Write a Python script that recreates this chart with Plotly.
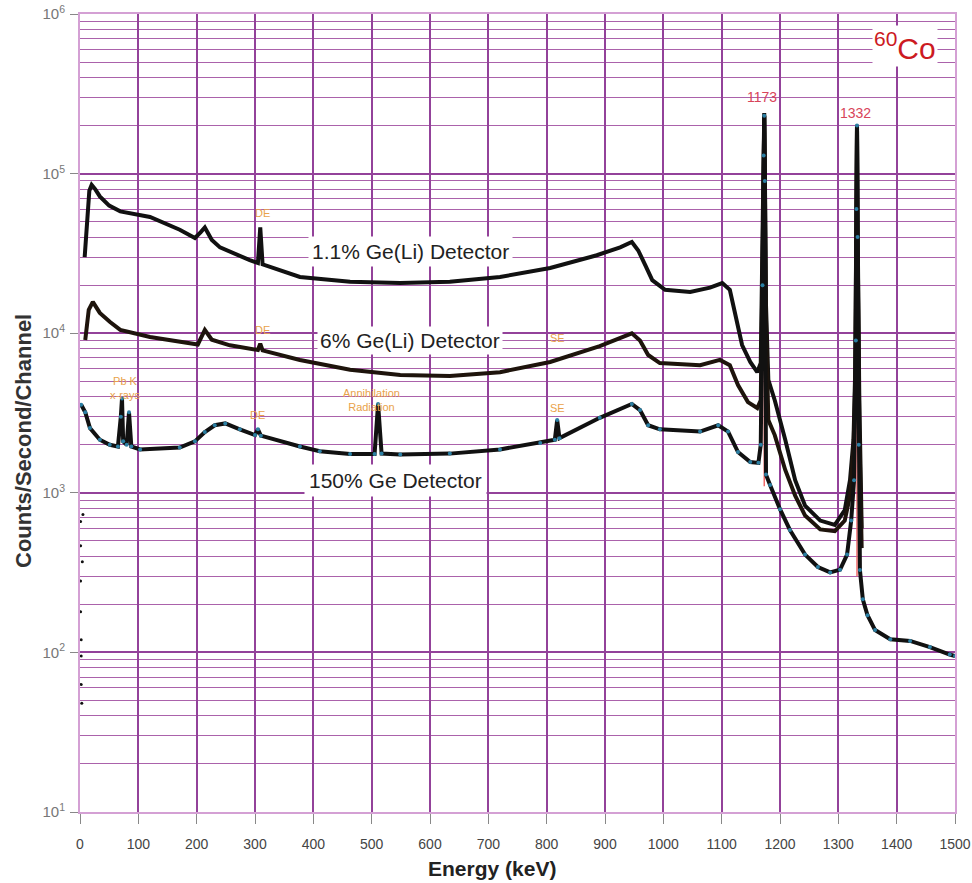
import plotly.graph_objects as go

# ---- Data (energy in keV, counts/second/channel) ----
geli11_energy = [8, 12, 16, 20, 26, 34, 50, 69, 120, 171, 197, 207, 214, 226, 240, 291, 305, 309, 313,
                 377, 463, 549, 634, 720, 806, 886, 926, 946, 957, 969, 981, 1003, 1046, 1080, 1101,
                 1114, 1126, 1135, 1149, 1161, 1167, 1170, 1172, 1173, 1174, 1176, 1180, 1191, 1209,
                 1226, 1243, 1269, 1294, 1311, 1320, 1326, 1329, 1331, 1332, 1333, 1336, 1340]
geli11_counts = [30000, 50000, 78000, 85000, 80000, 72000, 63000, 58000, 53500, 44500, 39500, 43000,
                 46000, 38400, 34500, 28700, 27500, 46000, 27000,
                 22500, 21000, 20600, 21000, 22500, 25600, 30800, 34500, 37300, 33000, 26700, 21500,
                 18700, 18100, 19300, 20600,
                 18700, 12000, 8430, 6610, 5700, 6500, 30000, 150000, 240000, 110000, 15000, 5100, 3800,
                 2150, 1200, 830, 670, 630, 780, 1200, 2150, 6000, 60000, 202000, 50000, 3800, 600]

geli6_energy = [9, 15, 22, 34, 51, 69, 120, 171, 202, 214, 226, 257, 305, 309, 313, 377, 463, 549, 634,
                720, 806, 891, 946, 960, 974, 994, 1063, 1097, 1114, 1128, 1145, 1161, 1167, 1170,
                1172, 1173, 1174, 1176, 1180, 1191, 1209, 1226, 1243, 1269, 1294, 1311, 1320, 1326,
                1329, 1331, 1332, 1333, 1336, 1340]
geli6_counts = [9060, 14000, 15700, 13400, 11800, 10500, 9460, 8800, 8500, 10500, 9100, 8400, 7850,
                8600, 7800, 6800, 5900, 5470, 5400,
                5700, 6600, 8300, 9980, 9000, 7300, 6500, 6300, 6800, 6300, 4730, 3700, 3400, 3800,
                25000, 140000, 230000, 100000, 12000, 2860, 2300, 1390, 960, 720, 590, 575, 670, 960,
                1870, 5000, 55000, 200000, 45000, 2500, 450]

ge150_energy = [2, 9, 17, 34, 51, 65, 70, 72, 74, 80, 84, 88, 103, 171, 197, 214, 231, 249, 274, 300,
                305, 310, 377, 411, 463, 505, 511, 517, 549, 634, 720, 789, 814, 818, 822, 891, 946,
                960, 974, 994, 1063, 1094, 1111, 1128, 1149, 1163, 1167, 1170, 1172, 1173, 1174,
                1176, 1183, 1200, 1217, 1243, 1265, 1286, 1303, 1315, 1322, 1327, 1330, 1331, 1332,
                1333, 1335, 1337, 1342, 1350, 1363, 1389, 1423, 1457, 1491, 1500]
ge150_counts = [3560, 3200, 2550, 2150, 2000, 1950, 3000, 3900, 2100, 2000, 3200, 1950, 1870, 1920,
                2100, 2400, 2650, 2720, 2500, 2300,
                2500, 2280, 1950, 1820, 1750, 1750, 3600, 1760, 1740, 1760, 1870, 2050, 2150, 2860,
                2200, 2950, 3600,
                3300, 2650, 2500, 2420, 2650, 2420, 1800, 1560, 1540, 2000, 20000, 130000, 230000,
                90000, 1300, 1120, 790, 585, 410, 343, 317, 330, 410, 670, 1200, 9000, 60000, 200000,
                40000, 2000, 328, 215, 171, 138, 121, 118, 108, 97, 95]

stray_energy = [1, 1, 1, 1, 2, 2, 2, 3, 4, 5]
stray_counts = [660, 465, 280, 180, 120, 95, 63, 48, 370, 730]

peak_energy = [1173, 1332]
peak_top = [240000, 202000]
peak_base = [1100, 300]

x_ticks = [0, 100, 200, 300, 400, 500, 600, 700, 800, 900, 1000, 1100, 1200, 1300, 1400, 1500]
y_ticks = [10, 100, 1000, 10000, 100000, 1000000]
y_ticktext = ["10<sup>1</sup>", "10<sup>2</sup>", "10<sup>3</sup>", "10<sup>4</sup>",
              "10<sup>5</sup>", "10<sup>6</sup>"]

GRID = "#93429a"
MINOR = "#ab62ab"
ORANGE = "#e9a24a"

fig = go.Figure()

# red peak markers
rx, ry = [], []
for e, t, b in zip(peak_energy, peak_top, peak_base):
    rx += [e, e, None]
    ry += [b, t, None]
fig.add_trace(go.Scatter(x=rx, y=ry, mode="lines", line=dict(color="#f06a6a", width=1.5),
                         hoverinfo="skip", showlegend=False))

fig.add_trace(go.Scatter(x=geli11_energy, y=geli11_counts, mode="lines",
                         line=dict(color="#111111", width=4), name="1.1% Ge(Li)", showlegend=False))
fig.add_trace(go.Scatter(x=geli6_energy, y=geli6_counts, mode="lines",
                         line=dict(color="#1e140c", width=4), name="6% Ge(Li)", showlegend=False))
fig.add_trace(go.Scatter(x=ge150_energy, y=ge150_counts, mode="lines+markers",
                         line=dict(color="#111111", width=4),
                         marker=dict(color="#2b7fa3", size=4),
                         name="150% Ge", showlegend=False))
fig.add_trace(go.Scatter(x=stray_energy, y=stray_counts, mode="markers",
                         marker=dict(color="#111111", size=3), showlegend=False))

annotations = [
    dict(x=566, y=4.51, text="1.1% Ge(Li) Detector", font=dict(size=21, color="#222222"),
         bgcolor="white", borderpad=3),
    dict(x=566, y=3.957, text="6% Ge(Li) Detector", font=dict(size=21, color="#222222"),
         bgcolor="white", borderpad=2),
    dict(x=540, y=3.08, text="150% Ge Detector", font=dict(size=21, color="#222222"),
         bgcolor="white", borderpad=4),
    dict(x=312, y=4.753, text="DE", font=dict(size=11, color=ORANGE)),
    dict(x=312, y=4.02, text="DE", font=dict(size=11, color=ORANGE)),
    dict(x=818, y=3.97, text="SE", font=dict(size=11, color=ORANGE)),
    dict(x=77, y=3.657, text="Pb K<br>x-rays", font=dict(size=11, color=ORANGE)),
    dict(x=500, y=3.58, text="Annihilation<br>Radiation", font=dict(size=11, color=ORANGE)),
    dict(x=305, y=3.49, text="DE", font=dict(size=11, color=ORANGE)),
    dict(x=818, y=3.53, text="SE", font=dict(size=11, color=ORANGE)),
    dict(x=1169, y=5.48, text="1173", font=dict(size=14, color="#d8445a")),
    dict(x=1330, y=5.38, text="1332", font=dict(size=14, color="#d8445a")),
    dict(x=1415, y=5.80, text="<sup>60</sup>Co", font=dict(size=30, color="#cc1a22"),
         bgcolor="white", borderpad=1),
]
for a in annotations:
    a.update(xref="x", yref="y", showarrow=False)
    a["font"]["family"] = "Arial, Liberation Sans"
    fig.add_annotation(**a)

fig.add_annotation(text="<b>Energy (keV)</b>", xref="paper", yref="paper",
                   x=(492 - 80) / 875, y=-(868 - 812) / 798, xanchor="center", yanchor="middle",
                   showarrow=False, font=dict(size=21, color="#222222"))
fig.add_annotation(text="<b>Counts/Second/Channel</b>", xref="paper", yref="paper",
                   x=-(80 - 23) / 875, y=(812 - 441) / 798, xanchor="center", yanchor="middle",
                   showarrow=False, textangle=-90, font=dict(size=22, color="#333333"))

fig.update_layout(
    width=972, height=883,
    margin=dict(l=80, r=17, t=14, b=71),
    paper_bgcolor="white", plot_bgcolor="white",
    font=dict(family="Arial, Liberation Sans", color="#444444"),
    xaxis=dict(range=[0, 1500], tickvals=x_ticks, ticks="outside", ticklen=10,
               tickcolor="#888888", showgrid=True, gridcolor=GRID, gridwidth=1.5,
               showline=True, linecolor="#d4a0d4", linewidth=2, mirror=True, zeroline=False,
               tickfont=dict(size=14, color="#444444"), ticklabelstandoff=8, automargin=False),
    yaxis=dict(type="log", range=[1, 6], tickvals=y_ticks, ticktext=y_ticktext,
               ticks="outside", ticklen=8, tickcolor="#888888",
               showgrid=True, gridcolor=GRID, gridwidth=1.5,
               minor=dict(showgrid=True, gridcolor=MINOR, gridwidth=1.3, dtick="D1"),
               showline=True, linecolor="#d4a0d4", linewidth=2, mirror=True,
               tickfont=dict(size=15, color="#777777"), ticklabelstandoff=2, automargin=False),
)

fig.write_html("out.html", config={"displayModeBar": False},
               post_script="document.body.style.margin='0';document.body.style.overflow='hidden';")
